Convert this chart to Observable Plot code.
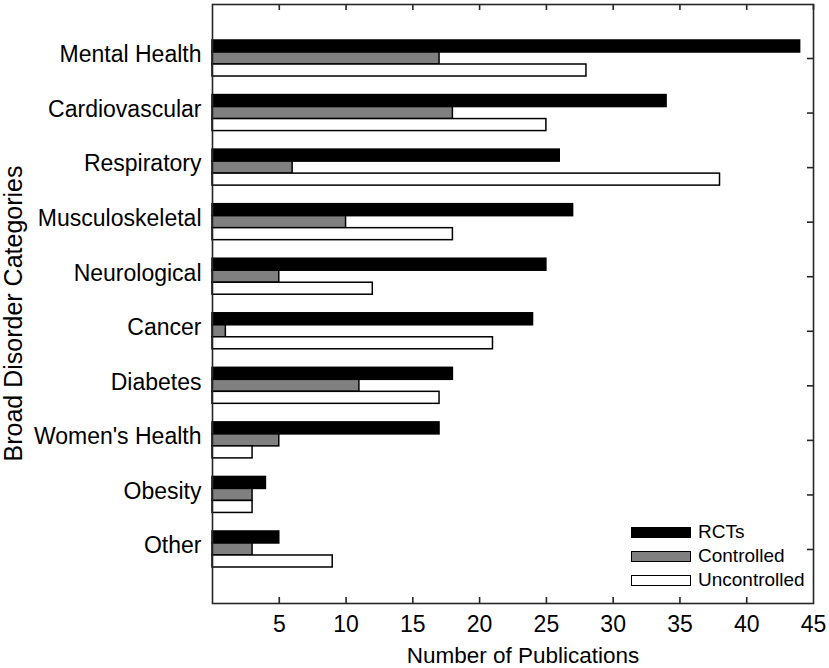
<!DOCTYPE html>
<html><head><meta charset="utf-8">
<script src="https://cdn.jsdelivr.net/npm/d3@7"></script>
<script src="https://cdn.jsdelivr.net/npm/@observablehq/plot@0.6"></script>
<style>
body{margin:0;background:#fff;font-family:"Liberation Sans",Arial,sans-serif}
#wrap{position:relative;width:829px;height:668px}
#wrap svg{display:block}
#legend{position:absolute;left:631px;top:520px;font-size:19px;color:#000;line-height:24px}
.item{display:flex;align-items:center;height:24px}
.sw{box-sizing:border-box;width:60px;height:11px;border:1.6px solid #000;margin-right:7px}
</style></head><body><div id="wrap"></div>
<script>
const categories = ["Mental Health","Cardiovascular","Respiratory","Musculoskeletal","Neurological","Cancer","Diabetes","Women's Health","Obesity","Other"];
const rcts =         [44, 34, 26, 27, 25, 24, 18, 17, 4, 5];
const controlled =   [17, 18,  6, 10,  5,  1, 11,  5, 3, 3];
const uncontrolled = [28, 25, 38, 18, 12, 21, 17,  3, 3, 9];
const seriesNames = ["RCTs", "Controlled", "Uncontrolled"];
const seriesFills = ["#000000", "#808080", "#ffffff"];
const xTicks = [5, 10, 15, 20, 25, 30, 35, 40, 45];
const xLabel = "Number of Publications";
const yLabel = "Broad Disorder Categories";

const seriesValues = [rcts, controlled, uncontrolled];
const table = seriesNames.map((s, k) => categories.map((c, i) => ({category: c, series: s, value: seriesValues[k][i]})));

const W = 829, H = 668, mL = 212, mR = 16, mT = 4, mB = 65;
const innerW = W - mL - mR, innerH = H - mT - mB;
const barH = 12;
const insets = [[0, 2 * barH], [barH, barH], [2 * barH, 0]];

const chart = Plot.plot({
  width: W, height: H,
  marginLeft: mL, marginRight: mR, marginTop: mT, marginBottom: mB,
  style: {fontFamily: "'Liberation Sans', Arial, sans-serif", fontSize: "23px", color: "#000", background: "#fff"},
  x: {domain: [0, 45]},
  y: {type: "band", domain: categories, paddingInner: 0.34, paddingOuter: 0.66, round: false},
  marks: [
    ...table.map((rows, k) => Plot.barX(rows, {
      x: "value", y: "category", fill: seriesFills[k], stroke: "#000", strokeWidth: 1.5,
      insetTop: insets[k][0], insetBottom: insets[k][1]
    })),
    Plot.frame({stroke: "#262626", strokeWidth: 1.6}),
    Plot.ruleX(xTicks, {x: d => d, stroke: "#262626", strokeWidth: 1.6, insetBottom: innerH - 6}),
    Plot.ruleX(xTicks.filter(d => d < 45), {x: d => d, stroke: "#262626", strokeWidth: 1.6, insetTop: innerH - 6}),
    Plot.ruleY(categories, {y: d => d, stroke: "#262626", strokeWidth: 1.6, insetLeft: innerW - 6}),
    Plot.axisX(xTicks, {tickSize: 0, tickPadding: 12, label: null}),
    Plot.axisY({tickSize: 0, tickPadding: 11, dy: -3.5, label: null}),
    Plot.text([xLabel], {text: d => d, frameAnchor: "bottom", textAnchor: "middle", lineAnchor: "middle", dx: 10, dy: 52, fontSize: 22.5, fill: "#000"}),
    Plot.text([yLabel], {text: d => d, frameAnchor: "left", textAnchor: "middle", lineAnchor: "middle", rotate: -90, dx: -198.5, dy: 9.5, fontSize: 25, fill: "#000"})
  ]
});
const wrap = document.getElementById("wrap");
wrap.appendChild(chart);

const legend = document.createElement("div");
legend.id = "legend";
seriesNames.forEach((s, k) => {
  const item = document.createElement("div");
  item.className = "item";
  const sw = document.createElement("div");
  sw.className = "sw";
  sw.style.background = seriesFills[k];
  const t = document.createElement("span");
  t.textContent = s;
  item.appendChild(sw); item.appendChild(t);
  legend.appendChild(item);
});
wrap.appendChild(legend);
</script></body></html>
